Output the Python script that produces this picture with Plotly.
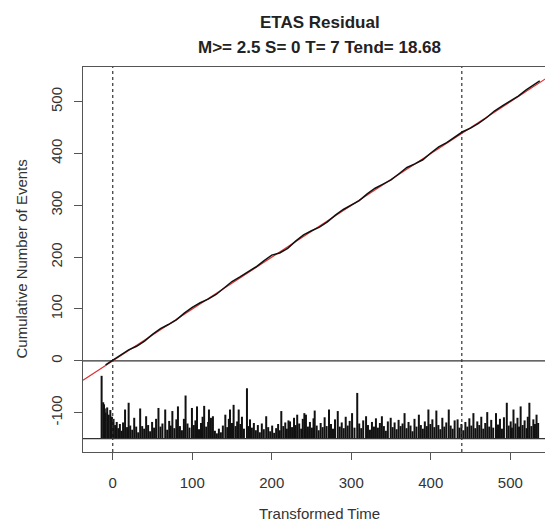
import plotly.graph_objects as go

# ---------------- data ----------------
title_main = "ETAS Residual"
title_sub = "M>= 2.5 S= 0 T= 7 Tend= 18.68"
x_label = "Transformed Time"
y_label = "Cumulative Number of Events"
x_ticks = [0, 100, 200, 300, 400, 500]
y_ticks = [-100, 0, 100, 200, 300, 400, 500]

cum_time = [-9, 0, 10, 20, 30, 40, 50, 60, 70, 80, 90, 100, 110, 120, 130, 140, 150, 160,
            170, 180, 190, 200, 210, 220, 230, 240, 250, 260, 270, 280, 290, 300, 310, 320,
            330, 340, 350, 360, 370, 380, 390, 400, 410, 420, 430, 440, 450, 460, 470, 480,
            490, 500, 510, 520, 530, 537]
cum_count = [-8, 1, 12, 21, 28, 38, 51, 62, 70, 79, 92, 103, 112, 119, 128, 141, 153, 162,
             171, 181, 193, 204, 208, 217, 231, 243, 251, 258, 268, 281, 292, 300, 309, 322,
             333, 341, 349, 361, 373, 380, 388, 401, 413, 421, 431, 442, 449, 458, 469, 482,
             492, 501, 511, 523, 533, 540]

# event spikes (transformed time, top of spike)
bar_time = [-14, -12, -11, -10, -9, -7, -5, -3, -1, 1, 3, 5, 7, 9, 11, 13, 15.5, 18, 20, 22,
            24.5, 27, 29.5, 32, 34.5, 37, 39.5, 42, 44.5, 47, 49.5, 52, 54.5, 57.5, 60, 62.5,
            66, 68.5, 71, 73, 75, 77.5, 80, 82, 84.5, 87, 89.5, 91.6, 94, 96.5, 99.6, 102,
            104, 106, 108.5, 111, 113, 115, 117.5, 120, 121, 123.5, 126, 128.5, 131, 133.5,
            136, 138.5, 141.6, 144, 146, 147.5, 150, 152, 154.5, 156.5, 158.4, 160.5, 162.5,
            165, 168.8, 171, 172.6, 175, 177.5, 180, 182.5, 185, 187.5, 190, 193, 195.5, 198,
            200.5, 203, 205.5, 208, 210, 212, 214.5, 217, 219, 221, 223, 225.5, 228, 230, 232,
            234.5, 237, 239, 241, 243, 245.5, 248, 250.5, 252.5, 254, 256.5, 259, 261.5, 264,
            266.5, 269, 272, 274.5, 277, 279.5, 283, 285.5, 288, 290.5, 293, 295.5, 298, 301,
            304, 307.5, 310, 312.5, 315, 318.6, 321, 323.5, 326, 328.5, 331, 333.5, 336, 338.5,
            341, 343.5, 346, 349.6, 352, 354.5, 357, 359.5, 362, 364.5, 367, 369.5, 372, 374.5,
            377, 379.5, 382, 385, 387.5, 390, 392.5, 395, 397, 399.5, 402, 404.5, 407, 409.5,
            412, 414.5, 417, 419.5, 422.6, 425, 427.5, 430, 433.7, 436, 438.5, 441, 443.5, 446,
            448.5, 451, 453.6, 456, 458.5, 461, 463.5, 466, 468.5, 471, 473.5, 476, 478.5, 482,
            484.5, 487, 489.5, 492, 495.6, 498, 500.5, 502, 504, 506.5, 509, 511, 513, 515.5,
            518, 520.5, 522, 524, 526.5, 529, 531, 533, 535]
bar_top = [-29, -80, -84, -92, -100, -90, -104, -95, -108, -112, -124, -118, -130, -122, -135,
           -119, -94, -128, -81, -125, -133, -110, -127, -138, -92, -126, -131, -107, -124, -136,
           -118, -129, -112, -91, -127, -121, -94, -133, -116, -125, -97, -130, -113, -88, -126,
           -134, -112, -67, -121, -129, -91, -124, -115, -88, -132, -120, -108, -87, -127, -118,
           -94, -110, -107, -135, -140, -131, -138, -125, -104, -128, -112, -94, -120, -85, -126,
           -117, -94, -122, -108, -131, -53, -126, -113, -129, -120, -134, -124, -138, -121, -132,
           -107, -128, -136, -125, -139, -130, -122, -134, -97, -126, -119, -131, -115, -117, -128,
           -110, -124, -104, -121, -131, -112, -101, -104, -127, -118, -129, -111, -96, -125, -134,
           -120, -128, -109, -126, -94, -122, -131, -113, -97, -127, -119, -130, -108, -125, -116,
           -101, -129, -62, -121, -130, -115, -107, -124, -133, -118, -127, -111, -129, -120, -107,
           -126, -135, -117, -110, -128, -119, -132, -114, -126, -121, -101, -130, -118, -125, -136,
           -112, -127, -104, -124, -131, -117, -126, -94, -122, -113, -128, -96, -124, -132, -110,
           -127, -119, -94, -125, -131, -115, -113, -129, -122, -134, -118, -127, -111, -125, -101,
           -130, -117, -124, -108, -131, -120, -99, -127, -114, -129, -101, -123, -112, -131, -109,
           -81, -125, -117, -129, -94, -121, -110, -127, -88, -124, -115, -130, -108, -81, -126,
           -113, -122, -104, -120]
bar_base = -150
ref_lines_x = [0, 439]       # dashed verticals (start / end of target period)
ref_lines_y = [0, bar_base]  # horizontal reference lines

x_range = [-37.4, 553.7]
y_range = [-176, 567]

# ---------------- figure ----------------
FONT = "Liberation Sans, Arial, sans-serif"
TXT = "#333333"
AX = "#555555"

fig = go.Figure()

# spikes
bx, by = [], []
for t, h in zip(bar_time, bar_top):
    bx += [t, t, None]
    by += [bar_base, h, None]
fig.add_trace(go.Scatter(x=bx, y=by, mode="lines",
                         line=dict(color="#111111", width=2.0),
                         hoverinfo="skip", showlegend=False))

# horizontal reference lines
for yv in ref_lines_y:
    fig.add_trace(go.Scatter(x=x_range, y=[yv, yv], mode="lines",
                             line=dict(color="#333333", width=1.2),
                             hoverinfo="skip", showlegend=False))

# dashed verticals
for xv in ref_lines_x:
    fig.add_trace(go.Scatter(x=[xv, xv], y=y_range, mode="lines",
                             line=dict(color="#333333", width=1.2, dash="3px,3px"),
                             hoverinfo="skip", showlegend=False))

# red y = x line
fig.add_trace(go.Scatter(x=[x_range[0], y_range[1]], y=[x_range[0], y_range[1]], mode="lines",
                         line=dict(color="#e03030", width=1.2),
                         hoverinfo="skip", showlegend=False))

# cumulative curve
fig.add_trace(go.Scatter(x=cum_time, y=cum_count, mode="lines",
                         line=dict(color="#111111", width=1.5),
                         hoverinfo="skip", showlegend=False))

# the page body adds an 8px margin, so the figure is 8px smaller than the window
fig.update_layout(
    width=545, height=516,
    margin=dict(l=75, r=0, t=59, b=72, autoexpand=False),
    paper_bgcolor="white", plot_bgcolor="white",
    font=dict(family=FONT, size=15, color=TXT),
    showlegend=False,
    xaxis=dict(range=x_range, tickvals=x_ticks, ticktext=[str(v) for v in x_ticks],
               automargin=False,
               showgrid=False, zeroline=False, showline=True, mirror=True,
               linecolor=AX, linewidth=1.3, ticks="outside", ticklen=7, tickwidth=1.3,
               tickcolor=AX, ticklabelstandoff=10, tickfont=dict(size=15, color=TXT)),
    yaxis=dict(range=y_range, tickvals=y_ticks, ticktext=[str(v) for v in y_ticks],
               automargin=False,
               showgrid=False, zeroline=False, showline=True, mirror=False,
               linecolor=AX, linewidth=1.3, ticks="outside", ticklen=8, tickwidth=1.3,
               tickcolor=AX, tickangle=-90, ticklabelstandoff=6,
               tickfont=dict(size=15, color=TXT)),
    annotations=[
        dict(text="<b>" + title_main + "</b>", xref="paper", yref="paper",
             x=0.504, y=1, yshift=45, xanchor="center", yanchor="middle",
             showarrow=False, font=dict(size=17, color="#222222", family=FONT)),
        dict(text="<b>" + title_sub + "</b>", xref="paper", yref="paper",
             x=0.504, y=1, yshift=20, xanchor="center", yanchor="middle",
             showarrow=False, font=dict(size=17, color="#222222", family=FONT)),
        dict(text=x_label, xref="paper", yref="paper", x=0.504, y=0, yshift=-61,
             xanchor="center", yanchor="middle", showarrow=False,
             font=dict(size=15, color=TXT, family=FONT)),
        dict(text=y_label, xref="paper", yref="paper", x=0, xshift=-62, y=0.5,
             xanchor="center", yanchor="middle", textangle=-90, showarrow=False,
             font=dict(size=15, color=TXT, family=FONT)),
    ],
)

fig.write_html("out.html")
